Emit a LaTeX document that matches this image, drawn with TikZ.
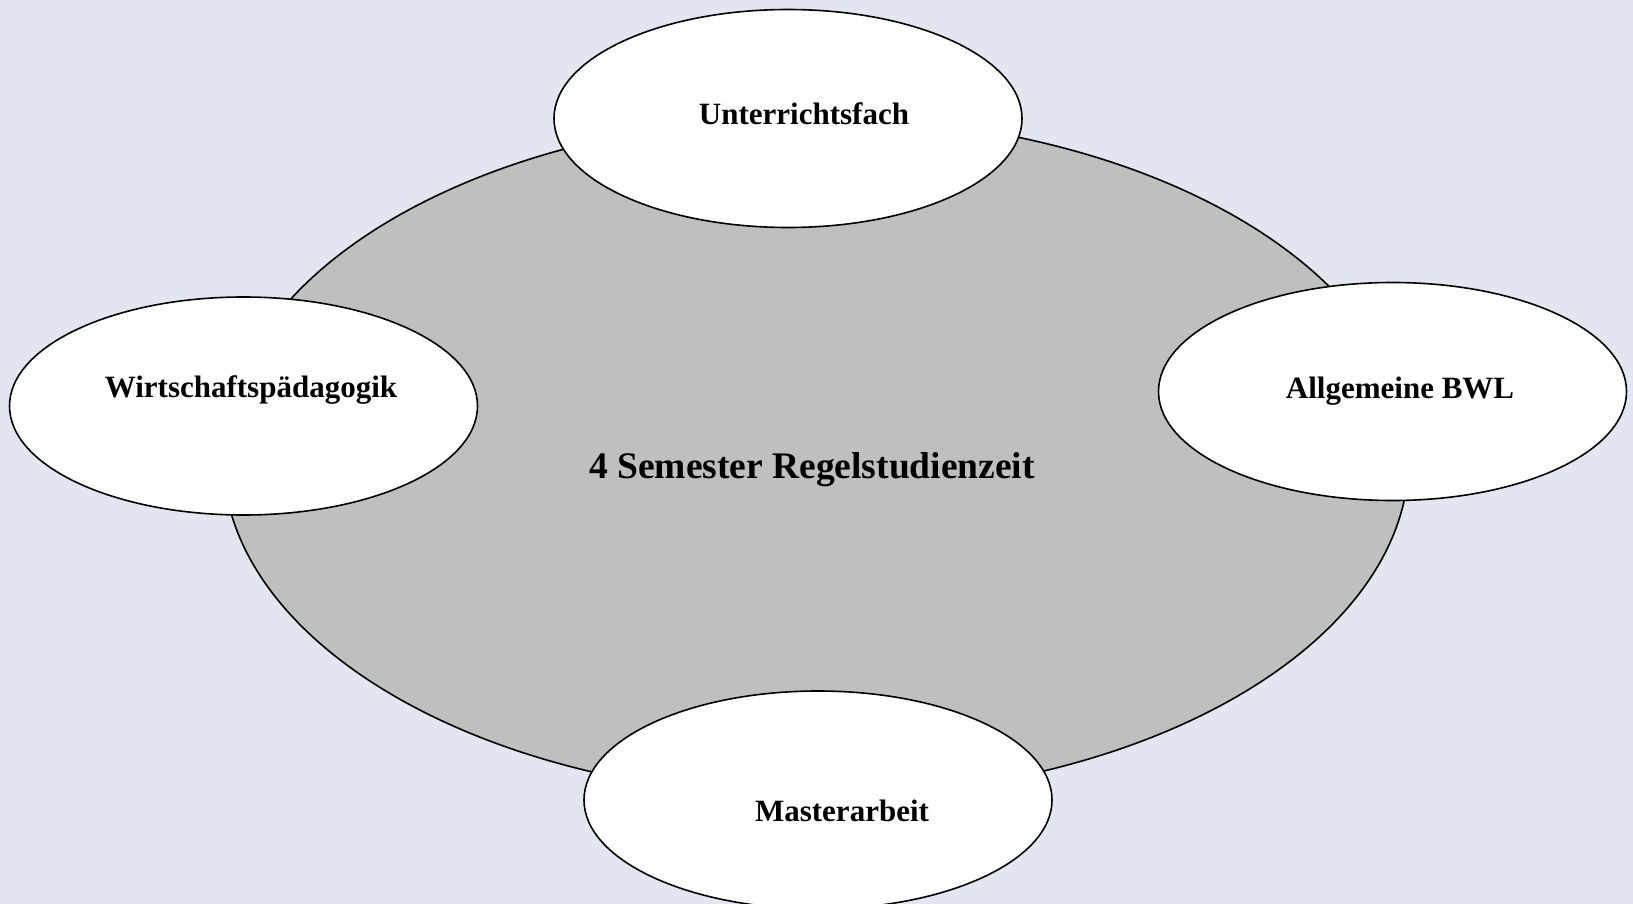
\documentclass[tikz,border=0pt]{standalone}
\usepackage{fontspec}
\setmainfont{Liberation Serif}
\usepackage{tikz}
\usetikzlibrary{shapes.geometric, positioning}

\definecolor{hintergrund}{RGB}{225,230,240}
\definecolor{kreisgrau}{RGB}{191,191,191}

\tikzset{
  bubble/.style={draw, ellipse, fill=white, line width=1.6pt, minimum width=468pt, minimum height=218pt, inner sep=0pt},
  bubbletext/.style={anchor=base, inner sep=0pt, font=\fontsize{31}{37}\selectfont\bfseries}
}

\begin{document}
\begin{tikzpicture}[x=1pt, y=-1pt]
        \fill[hintergrund] (0,0) rectangle (1633,904);
        \useasboundingbox (0,0) rectangle (1633,904);

        \node[draw, ellipse, fill=kreisgrau, line width=1.6pt, minimum width=1186pt, minimum height=680pt, inner sep=0pt] (studium) at (816,457) {};
        \node[bubbletext, font=\fontsize{37.5}{45}\selectfont\bfseries] (studium-text) at ([shift={(-4,21)}]studium.center) {4 Semester Regelstudienzeit};

        \node[bubble] (unterricht) at (788,118.5) {};
        \node[bubble] (wiwi) at (243.5,406) {};
        \node[bubble] (bwl) at (1392.5,391.5) {};
        \node[bubble] (master) at (818,800) {};

        \node[bubbletext] (unterricht-text) at ([shift={(16,6.5)}]unterricht.center) {Unterrichtsfach};
        \node[bubbletext] (wiwi-text) at ([shift={(7.5,-9)}]wiwi.center) {Wirtschaftspädagogik};
        \node[bubbletext] (bwl-text) at ([shift={(7.5,6.5)}]bwl.center) {Allgemeine BWL};
        \node[bubbletext] (master-text) at ([shift={(24,21)}]master.center) {Masterarbeit};
    \end{tikzpicture}
\end{document}
